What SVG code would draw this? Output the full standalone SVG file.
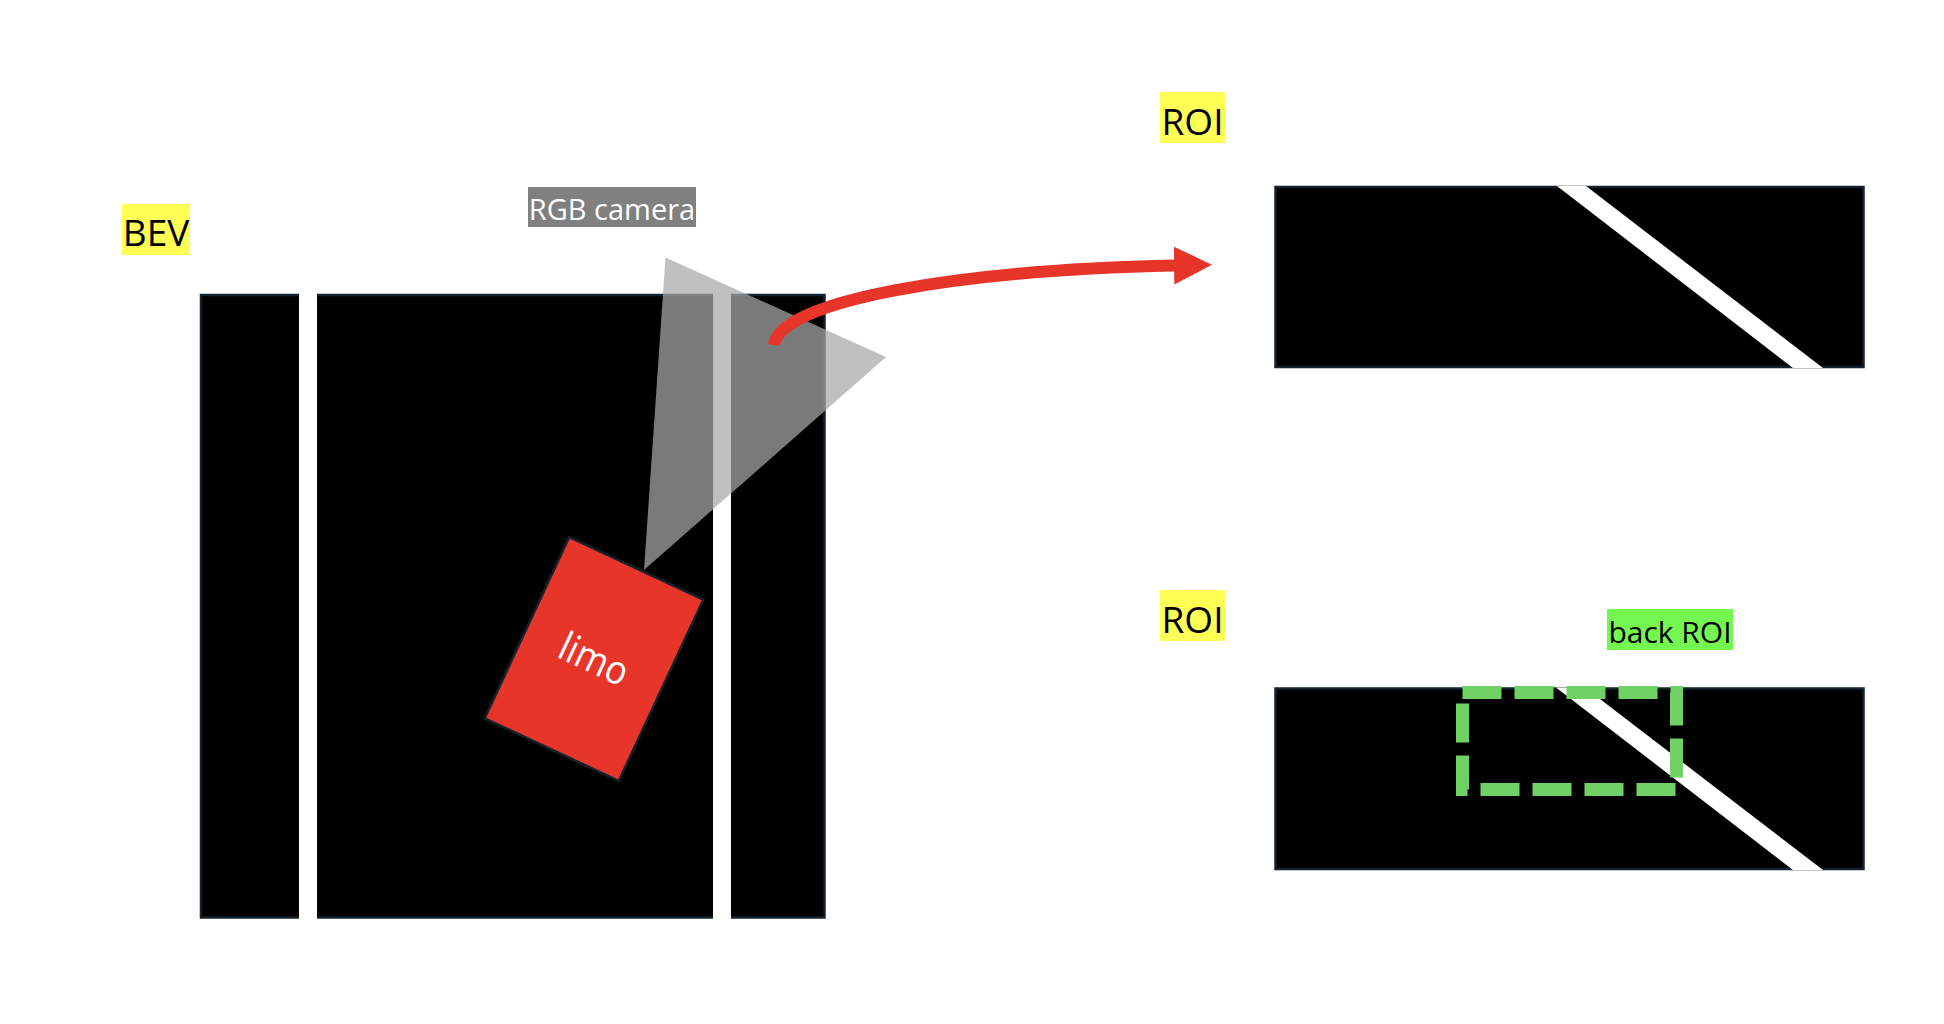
<svg xmlns="http://www.w3.org/2000/svg" width="1944" height="1024" viewBox="0 0 1944 1024">
  <style>
    .lbl { font-family: "Open Sans", "Noto Sans", "Liberation Sans", sans-serif; }
    .board { fill: #000000; stroke: #14222e; stroke-width: 2.5; }
    .lane { fill: #ffffff; }
    .yellow { fill: #ffff55; }
  </style>
  <defs>
    <marker id="redhead" markerUnits="userSpaceOnUse" markerWidth="40" markerHeight="40" refX="1" refY="19" orient="auto">
      <polygon points="0,0 38,19 0,38" fill="#e8352a"/>
    </marker>
  </defs>

  <g id="bev-label">
    <rect class="yellow" x="122" y="204" width="68" height="51"/>
    <text class="lbl" x="156" y="246" font-size="37" text-anchor="middle" fill="#000">BEV</text>
  </g>

  <g id="bev-map">
    <rect class="board" x="201" y="295" width="623.5" height="622.5"/>
    <rect class="lane" x="299" y="293" width="18" height="626"/>
    <rect class="lane" x="713" y="293" width="18" height="626"/>
  </g>

  <g id="limo">
    <g transform="translate(594 659) rotate(25)">
      <rect x="-74" y="-100" width="148" height="200" fill="#e8352a" stroke="#14222e" stroke-width="2.5"/>
      <text class="lbl" x="0" y="14" font-size="40" text-anchor="middle" fill="#ffffff" textLength="72" lengthAdjust="spacingAndGlyphs">limo</text>
    </g>
  </g>

  <g id="camera-fov">
    <polygon points="665.5,257.5 886,357 644,570" fill="#a8a8a8" fill-opacity="0.725"/>
  </g>

  <g id="rgb-camera-label">
    <rect x="528" y="187" width="168" height="40" fill="#808080"/>
    <text class="lbl" x="612" y="220" font-size="29" text-anchor="middle" fill="#ffffff">RGB camera</text>
  </g>

  <g id="roi-top-label">
    <rect class="yellow" x="1160" y="92" width="65" height="51"/>
    <text class="lbl" x="1192.5" y="135" font-size="37" text-anchor="middle" fill="#000">ROI</text>
  </g>

  <g id="roi-top">
    <rect class="board" x="1275.5" y="187" width="588" height="180"/>
    <polygon class="lane" points="1557,186 1586,186 1823,368 1793,368"/>
  </g>

  <g id="roi-bottom-label">
    <rect class="yellow" x="1160" y="590" width="65" height="51"/>
    <text class="lbl" x="1192.5" y="633" font-size="37" text-anchor="middle" fill="#000">ROI</text>
  </g>

  <g id="roi-bottom">
    <rect class="board" x="1275.5" y="688.5" width="588" height="180.5"/>
    <polygon class="lane" points="1556,687.5 1585,687.5 1823,870 1793,870"/>
  </g>

  <g id="back-roi">
    <rect x="1462.5" y="692.5" width="214" height="97" fill="none" stroke="#70d264" stroke-width="13" stroke-dasharray="39 13"/>
  </g>

  <g id="back-roi-label">
    <rect x="1607" y="609" width="126" height="41" fill="#74f651"/>
    <text class="lbl" x="1670" y="643" font-size="30" text-anchor="middle" fill="#000">back ROI</text>
  </g>

  <g id="connectors">
    <path d="M774,345 C780,300 960,270 1175,265.5" fill="none" stroke="#e8352a" stroke-width="12" marker-end="url(#redhead)"/>
  </g>
</svg>
